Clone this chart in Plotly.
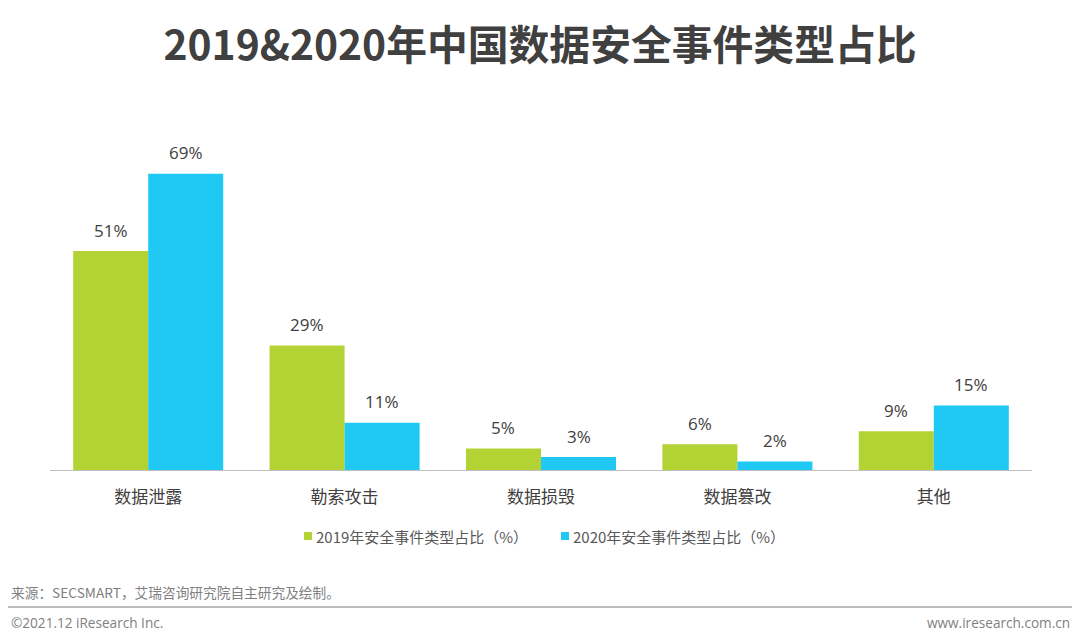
import plotly.graph_objects as go

categories = ["数据泄露", "勒索攻击", "数据损毁", "数据篡改", "其他"]
series_2019 = [51, 29, 5, 6, 9]
series_2020 = [69, 11, 3, 2, 15]
name_2019 = "2019年安全事件类型占比（%）"
name_2020 = "2020年安全事件类型占比（%）"

GREEN = "#B3D234"
BLUE = "#1FC9F3"
FONT = "Noto Sans CJK SC"
LABEL_FONT = "Open Sans"

# page has an 8px body margin; figure sized accordingly
W, H = 1064, 627
L, R, T, B = 42, 40, 92, 165
PW, PH = W - L - R, H - T - B


def px_x(page_x):
    return (page_x - 8 - L) / PW


def px_y(page_y):
    return (H - B - (page_y - 8)) / PH


fig = go.Figure()
fig.add_trace(go.Bar(x=categories, y=series_2019, name=name_2019, marker_color=GREEN,
                     marker_line_width=0, showlegend=False))
fig.add_trace(go.Bar(x=categories, y=series_2020, name=name_2020, marker_color=BLUE,
                     marker_line_width=0, showlegend=False))

half = PW / len(categories) * (1 - 0.236) / 4
for vals, shift in ((series_2019, -half), (series_2020, half)):
    for c, v in zip(categories, vals):
        fig.add_annotation(x=c, y=v, text=f"{v}%", showarrow=False, xshift=shift,
                           yanchor="middle", yshift=21,
                           font=dict(size=17, color="#404040", family=LABEL_FONT))

fig.update_layout(
    width=W, height=H,
    paper_bgcolor="white", plot_bgcolor="white",
    margin=dict(l=L, r=R, t=T, b=B),
    barmode="group", bargap=0.236, bargroupgap=0,
    font=dict(family=FONT, color="#404040"),
    title=dict(text="<b>2019&2020年中国数据安全事件类型占比</b>", x=0.5, xanchor="center",
               y=1 - (46 - 8) / H, yanchor="middle", font=dict(size=40.8, color="#404040", family=FONT)),
    xaxis=dict(showline=True, linecolor="#BFBFBF", linewidth=1, ticks="",
               tickfont=dict(size=17, color="#404040", family=FONT), showgrid=False,
               ticklabelstandoff=12),
    yaxis=dict(visible=False, range=[0, 86.2], showgrid=False),
    showlegend=False,
)

# legend (manual)
legend_items = [(name_2019, GREEN, 304), (name_2020, BLUE, 561)]
for text, color, sx in legend_items:
    fig.add_shape(type="rect", xref="paper", yref="paper",
                  x0=px_x(sx), x1=px_x(sx + 8), y0=px_y(540), y1=px_y(532),
                  fillcolor=color, line_width=0)
    fig.add_annotation(text=text, xref="paper", yref="paper", x=px_x(sx + 10), y=px_y(536),
                       xanchor="left", yanchor="middle", showarrow=False,
                       font=dict(size=15, color="#595959", family=FONT))

fig.add_annotation(text="来源：SECSMART，艾瑞咨询研究院自主研究及绘制。", xref="paper", yref="paper",
                   x=px_x(9), y=px_y(592), xanchor="left", yanchor="middle", showarrow=False,
                   font=dict(size=13.7, color="#7F7F7F", family=FONT))
fig.add_shape(type="line", xref="paper", yref="paper",
              x0=px_x(8), x1=px_x(1072), y0=px_y(607), y1=px_y(607),
              line=dict(color="#A6A6A6", width=1.5))
fig.add_annotation(text="©2021.12 iResearch Inc.", xref="paper", yref="paper",
                   x=px_x(9), y=px_y(622), xanchor="left", yanchor="middle", showarrow=False,
                   font=dict(size=13.6, color="#7F7F7F", family=LABEL_FONT))
fig.add_annotation(text="www.iresearch.com.cn", xref="paper", yref="paper",
                   x=px_x(1072), y=px_y(622), xanchor="right", yanchor="middle", showarrow=False,
                   font=dict(size=13.6, color="#7F7F7F", family=LABEL_FONT))

fig.write_html("out.html")
